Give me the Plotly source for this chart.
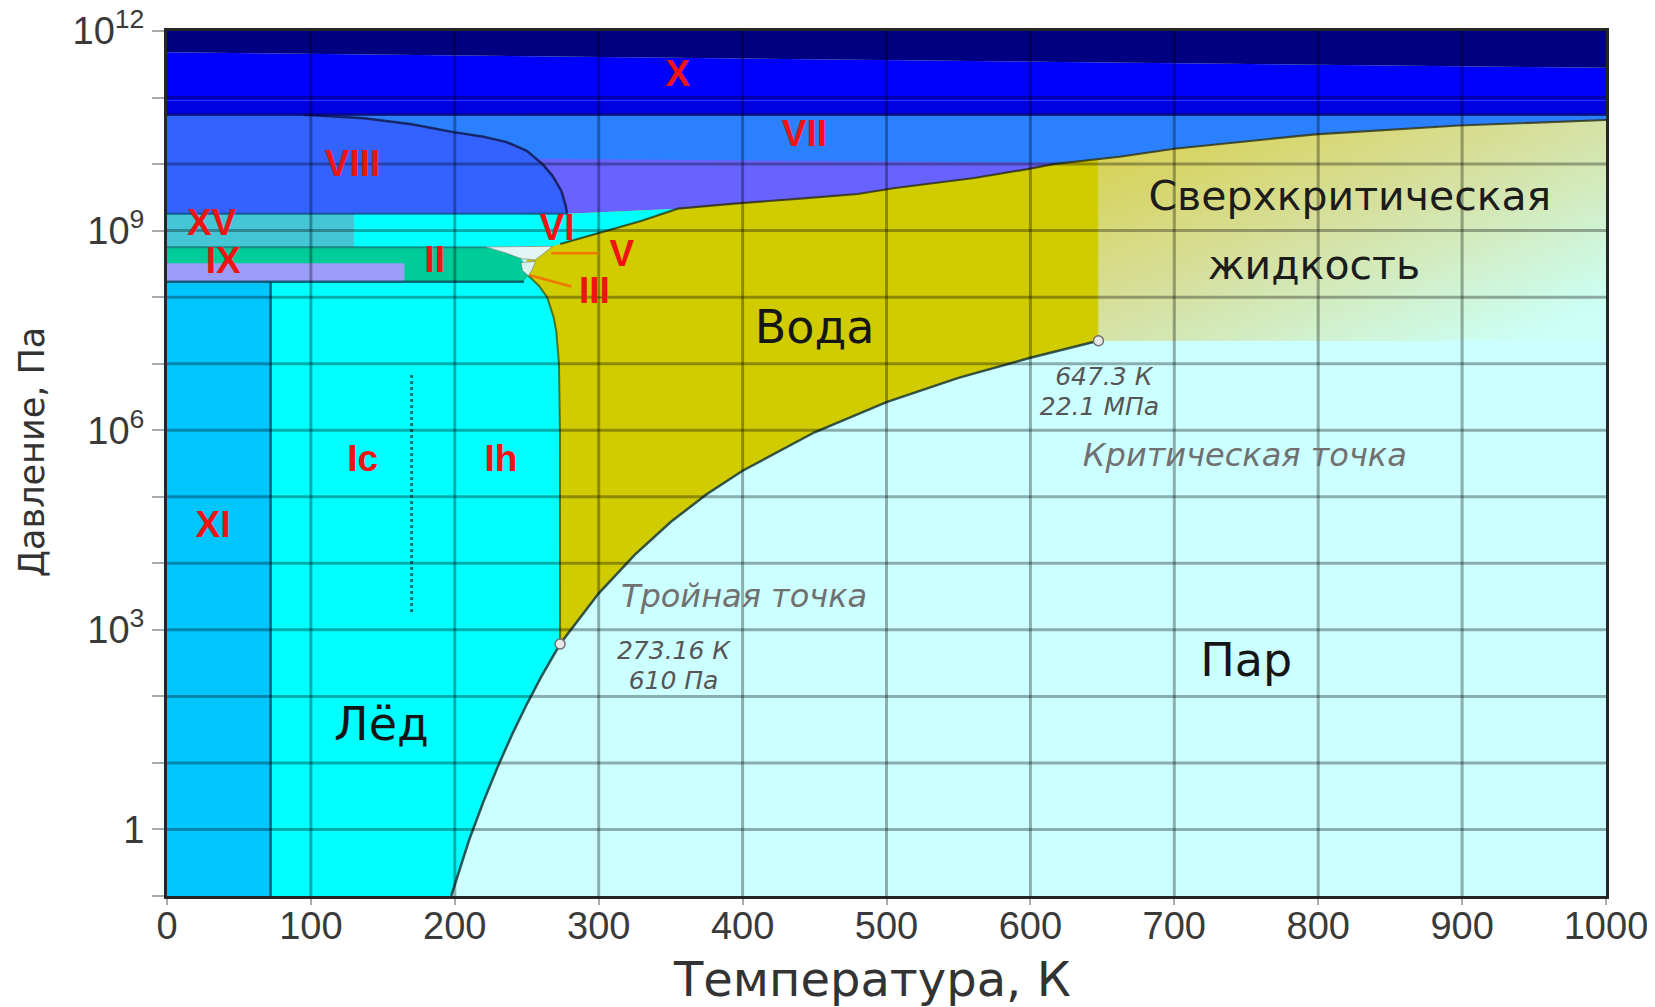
import numpy as np
import plotly.graph_objects as go

# ---------------- axes ----------------
T_TICKS = [0, 100, 200, 300, 400, 500, 600, 700, 800, 900, 1000]
P_DECADES = [1e-1, 1e0, 1e1, 1e2, 1e3, 1e4, 1e5, 1e6, 1e7, 1e8, 1e9, 1e10, 1e11, 1e12]
P_TICK_TEXT = ["", "1", "", "", "10<sup>3</sup>", "", "", "10<sup>6</sup>", "", "",
               "10<sup>9</sup>", "", "", "10<sup>12</sup>"]
T_MIN, T_MAX = 0, 1000
P_MIN, P_MAX = 1e-1, 1e12

# ---------------- phase boundaries (T in K, P in Pa) ----------------
SUBL_T = [197.5, 205.0, 210.0, 220.0, 230.0, 240.0, 250.0, 260.0, 273.16]
SUBL_P = [0.10, 0.33, 0.70, 2.65, 8.94, 27.3, 76.0, 196.0, 611.7]

VAP_T = [273.16, 300, 325, 350, 375, 400, 450, 500, 550, 600, 647.3]
VAP_P = [611.7, 3.54e3, 1.34e4, 4.17e4, 1.09e5, 2.46e5, 9.32e5, 2.64e6, 6.12e6, 1.23e7, 2.21e7]

MELT_IH_T = [273.16, 273.15, 273.08, 272.4, 270.6, 268.7, 264.2, 258.3, 251.2]
MELT_IH_P = [611.7, 1.0e5, 1.0e6, 1.0e7, 3.0e7, 5.0e7, 1.0e8, 1.5e8, 2.09e8]

MELT_VI_T = [273.3, 300, 330, 355]
MELT_VI_P = [6.3e8, 9.3e8, 1.41e9, 2.14e9]

MELT_VII_T = [355, 396, 440, 480, 506, 561, 597, 616, 662, 700, 798, 898, 1000]
MELT_VII_P = [2.14e9, 2.57e9, 3.02e9, 3.55e9, 4.37e9, 6.17e9, 8.32e9, 1.0e10, 1.29e10,
              1.7e10, 2.8e10, 3.8e10, 4.6e10]

VIII_T = [95, 137, 170, 199, 220, 236, 250, 261, 268, 274, 277, 278]
VIII_P = [5.5e10, 4.9e10, 3.98e10, 3.02e10, 2.57e10, 2.14e10, 1.58e10, 1.0e10, 6.6e9,
          3.98e9, 2.4e9, 1.8e9]

ICE_V_T = [222, 268, 262, 256, 246, 236]
ICE_V_P = [5.69e8, 5.82e8, 4.57e8, 3.63e8, 3.80e8, 4.57e8]
ICE_III_T = [246, 256.2, 254, 251.2, 247]
ICE_III_P = [3.31e8, 3.47e8, 2.63e8, 2.09e8, 2.51e8]

II_EDGE_T = [222, 236, 246, 250, 251.2, 248]
II_EDGE_P = [5.6e8, 4.57e8, 3.8e8, 2.82e8, 2.09e8, 1.7e8]

# band limits
P_IH_TOP = 1.7e8
P_IX_TOP = 3.24e8
P_II_TOP = 5.6e8
P_VIII_BOTTOM = 1.8e9
P_VII_TOP = 5.5e10
P_X_DARK_TOP = 9.1e10
NAVY_T = [0, 1000]
NAVY_P = [4.8e11, 2.8e11]
PURPLE_TOP_T = [255, 625]
PURPLE_TOP_P = [1.2e10, 1.05e10]
T_XI = 72
T_XV = 130
T_IX = 165
Y_WALL_T = 250            # left edge of liquid fill (hidden under ices)
P_LIQ_CAP = 6e10

TRIPLE_T, TRIPLE_P = 273.16, 611.7
CRIT_T, CRIT_P = 647.3, 2.21e7

IC_LINE_T = [170, 170]
IC_LINE_P = [1.86e3, 7.24e6]
V_LEADER_T = [267, 300]
V_LEADER_P = [4.57e8, 4.57e8]
III_LEADER_T = [252, 281]
III_LEADER_P = [2.14e8, 1.45e8]

# ---------------- labels ----------------
PHASE_NAMES = ["X", "VII", "VIII", "XV", "VI", "V", "IX", "II", "III", "Ic", "Ih", "XI"]
PHASE_T = [355, 443, 129, 31, 271, 316, 39, 186, 297, 136, 232, 32]
PHASE_LOGP = [11.31, 10.41, 9.96, 9.08, 9.0, 8.6, 8.5, 8.51, 8.05, 5.52, 5.52, 4.53]

BIG_NAMES = ["Вода", "Пар", "Лёд"]
BIG_T = [450, 750, 149]
BIG_LOGP = [7.49, 2.48, 1.51]

SC_NAMES = ["Сверхкритическая", "жидкость"]
SC_T = [822, 797]
SC_LOGP = [9.47, 8.42]

NOTE_NAMES = ["Тройная точка", "Критическая точка"]
NOTE_T = [401, 749]
NOTE_LOGP = [3.46, 5.58]

VAL_NAMES = ["273.16 К", "610 Па", "647.3 К", "22.1 МПа"]
VAL_T = [352, 352, 651, 648]
VAL_LOGP = [2.66, 2.21, 6.77, 6.33]

X_TITLE = "Температура, К"
Y_TITLE = "Давление, Па"

# ---------------- colours ----------------
C_VAPOR = "#CCFFFF"
C_ICE = "#00FFFF"
C_XI = "#00C6FF"
C_II = "#00CC99"
C_IX = "#9C9CFA"
C_XV = "#44C6D6"
C_VI = "#00FFFF"
C_V = "#E2F4F4"
C_III = "#D8F2F0"
C_LIQ = "#D0CC00"
C_VII = "#2B80FF"
C_PURPLE = "#6862FF"
C_VIII = "#3462FF"
C_X = "#0000FF"
C_XDARK = "#0000E0"
C_NAVY = "#000080"

fig = go.Figure()


def poly(xs, ys, color, lc="rgba(0,0,0,0)", lw=0):
    fig.add_trace(go.Scatter(x=list(xs) + [xs[0]], y=list(ys) + [ys[0]], mode="lines",
                             fill="toself", fillcolor=color,
                             line=dict(color=lc, width=lw),
                             hoverinfo="skip", showlegend=False))


def line(xs, ys, color, width, dash="solid"):
    fig.add_trace(go.Scatter(x=xs, y=ys, mode="lines",
                             line=dict(color=color, width=width, dash=dash),
                             hoverinfo="skip", showlegend=False))


# supercritical gradient (heatmap under all fills)
gx = np.linspace(CRIT_T, T_MAX, 121)
gly = np.linspace(np.log10(CRIT_P), 10.8, 61)
gy = 10 ** gly
cx = (gx[:-1] + gx[1:]) / 2
cy = (gly[:-1] + gly[1:]) / 2
u = (cx - CRIT_T) / (T_MAX - CRIT_T)
v = np.clip((10.45 - cy) / (10.45 - np.log10(CRIT_P)), 0, 1)
Z = np.clip(0.55 * u[None, :] + 0.55 * v[:, None], 0, 1)
fig.add_trace(go.Heatmap(x=gx, y=gy, z=Z, showscale=False, hoverinfo="skip",
                         zmin=0, zmax=1,
                         colorscale=[[0, "#D8D04C"], [0.5, "#D6E0A0"], [1, "#CCFFF6"]]))

# liquid
poly(VAP_T + [CRIT_T, Y_WALL_T, Y_WALL_T], VAP_P + [P_LIQ_CAP, P_LIQ_CAP, VAP_P[0]], C_LIQ)

# VII
poly([0] + MELT_VII_T + [T_MAX, 0], [P_VIII_BOTTOM] + MELT_VII_P + [P_VII_TOP, P_VII_TOP], C_VII)
# X bands
poly([0, T_MAX, T_MAX, 0], [P_VII_TOP, P_VII_TOP, P_X_DARK_TOP, P_X_DARK_TOP], C_XDARK)
poly([0, T_MAX, T_MAX, 0], [P_X_DARK_TOP, P_X_DARK_TOP, NAVY_P[1], NAVY_P[0]], C_X)
poly([0, T_MAX, T_MAX, 0], [NAVY_P[0], NAVY_P[1], P_MAX, P_MAX], C_NAVY)

# purple band of VII
pt = [t for t in MELT_VII_T if t <= 616]
pp = MELT_VII_P[:len(pt)]
poly(PURPLE_TOP_T + pt[::-1] + [VIII_T[-1]], PURPLE_TOP_P + pp[::-1] + [VIII_P[-1]], C_PURPLE)

# VIII
poly([0, 0] + VIII_T, [P_VIII_BOTTOM, P_VII_TOP] + VIII_P, C_VIII)

# XV
poly([0, T_XV, T_XV, 0], [P_II_TOP, P_II_TOP, P_VIII_BOTTOM, P_VIII_BOTTOM], C_XV)

# VI
poly([T_XV, T_XV, VIII_T[-1]] + MELT_VI_T[::-1] + [ICE_V_T[1]],
     [P_II_TOP, P_VIII_BOTTOM, P_VIII_BOTTOM] + MELT_VI_P[::-1] + [ICE_V_P[1]], C_VI)

# II and IX
poly([0, 0] + II_EDGE_T, [P_IH_TOP, P_II_TOP] + II_EDGE_P, C_II)
poly([0, T_IX, T_IX, 0], [P_IH_TOP, P_IH_TOP, P_IX_TOP, P_IX_TOP], C_IX)

# V and III
poly(ICE_V_T, ICE_V_P, C_V, "rgba(90,90,90,0.5)", 1)
poly(ICE_III_T, ICE_III_P, C_III, "rgba(90,90,90,0.5)", 1)

# Ih / Ic
poly([0] + SUBL_T + MELT_IH_T[1:] + [II_EDGE_T[-1], 0],
     [P_MIN] + SUBL_P + MELT_IH_P[1:] + [P_IH_TOP, P_IH_TOP], C_ICE)
# XI
poly([0, T_XI, T_XI, 0], [P_MIN, P_MIN, P_IH_TOP, P_IH_TOP], C_XI)

# boundary lines
line(SUBL_T + VAP_T[1:], SUBL_P + VAP_P[1:], "rgba(25,55,55,0.85)", 2.5)
line(MELT_IH_T, MELT_IH_P, "rgba(60,70,0,0.7)", 2)
line(MELT_VI_T + MELT_VII_T[1:], MELT_VI_P + MELT_VII_P[1:], "rgba(40,40,0,0.75)", 2.2)
line(VIII_T, VIII_P, "rgba(20,30,90,0.9)", 2.5)
line([T_XI, T_XI], [P_MIN, P_IH_TOP], "rgba(0,70,90,0.8)", 2.5)
line([0, II_EDGE_T[-1]], [P_IH_TOP, P_IH_TOP], "rgba(0,70,90,0.8)", 2.5)
line([0, II_EDGE_T[0]], [P_II_TOP, P_II_TOP], "rgba(0,90,90,0.6)", 2)
line([0, VIII_T[-1]], [P_VIII_BOTTOM, P_VIII_BOTTOM], "rgba(0,60,110,0.7)", 2)
line([0, T_MAX], [P_VII_TOP, P_VII_TOP], "rgba(0,0,90,0.7)", 2.5)

# Ic/Ih dotted separation
line(IC_LINE_T, IC_LINE_P, "#007878", 3, "dot")

# grid lines above fills
gxv, gyv = [], []
for t in T_TICKS[1:-1]:
    gxv += [t, t, None]
    gyv += [P_MIN, P_MAX, None]
for p in P_DECADES[1:-1]:
    gxv += [T_MIN, T_MAX, None]
    gyv += [p, p, None]
line(gxv, gyv, "rgba(0,0,0,0.32)", 3)

# leader lines
line(V_LEADER_T, V_LEADER_P, "#F07800", 2.5)
line(III_LEADER_T, III_LEADER_P, "#F07800", 2.5)

# triple / critical points
fig.add_trace(go.Scatter(x=[TRIPLE_T, CRIT_T], y=[TRIPLE_P, CRIT_P], mode="markers",
                         marker=dict(size=10, color="#E8E8E8", line=dict(color="#707070", width=1.5)),
                         hoverinfo="skip", showlegend=False))


def texts(names, ts, logps, size, color, family, wrap=("", "")):
    fig.add_trace(go.Scatter(x=ts, y=[10 ** lp for lp in logps], mode="text",
                             text=[wrap[0] + n + wrap[1] for n in names],
                             textposition="middle center",
                             textfont=dict(size=size, color=color, family=family),
                             hoverinfo="skip", showlegend=False))


texts(PHASE_NAMES, PHASE_T, PHASE_LOGP, 37, "#EE1414", "Liberation Sans, Arial", ("<b>", "</b>"))
texts(BIG_NAMES, BIG_T, BIG_LOGP, 46, "#151515", "DejaVu Sans")
texts(SC_NAMES, SC_T, SC_LOGP, 41, "#1c1c1c", "DejaVu Sans")
texts(NOTE_NAMES, NOTE_T, NOTE_LOGP, 32, "#707070", "DejaVu Sans", ("<i>", "</i>"))
texts(VAL_NAMES, VAL_T, VAL_LOGP, 25, "#555555", "DejaVu Sans", ("<i>", "</i>"))

# The page body has an 8px margin, so the figure is sized/placed to put the plot
# area where the reference has it inside the 1655x1007 window.
fig.update_layout(
    width=1647, height=999,
    margin=dict(l=159, r=49, t=23, b=111),
    paper_bgcolor="white", plot_bgcolor=C_VAPOR,
    showlegend=False, hovermode=False,
    xaxis=dict(range=[T_MIN, T_MAX], tickvals=T_TICKS, ticks="outside", ticklen=6,
               ticklabelstandoff=-12, ticklabeloverflow="allow",
               tickcolor="#aaaaaa", tickwidth=2, showgrid=False, zeroline=False,
               showline=True, linecolor="#262626", linewidth=3, mirror=True,
               automargin=False,
               tickfont=dict(family="Liberation Sans, Arial", size=38, color="#3a3a3a")),
    yaxis=dict(type="log", range=[-1, 12], tickvals=P_DECADES, ticktext=P_TICK_TEXT,
               ticks="outside", ticklen=12, tickcolor="#aaaaaa", tickwidth=2,
               ticklabeloverflow="allow",
               showgrid=False, zeroline=False, showline=True, linecolor="#262626",
               linewidth=3, mirror=True, automargin=False,
               tickfont=dict(family="Liberation Sans, Arial", size=38, color="#3a3a3a")),
    annotations=[
        dict(text=X_TITLE, xref="paper", yref="paper", x=0.49, y=-0.096,
             xanchor="center", yanchor="middle", showarrow=False,
             font=dict(family="DejaVu Sans", size=48, color="#333333")),
        dict(text=Y_TITLE, xref="paper", yref="paper", x=-0.0938, y=0.513,
             xanchor="center", yanchor="middle", showarrow=False, textangle=-90,
             font=dict(family="DejaVu Sans", size=35, color="#333333")),
    ],
)

fig.write_html("out.html")
